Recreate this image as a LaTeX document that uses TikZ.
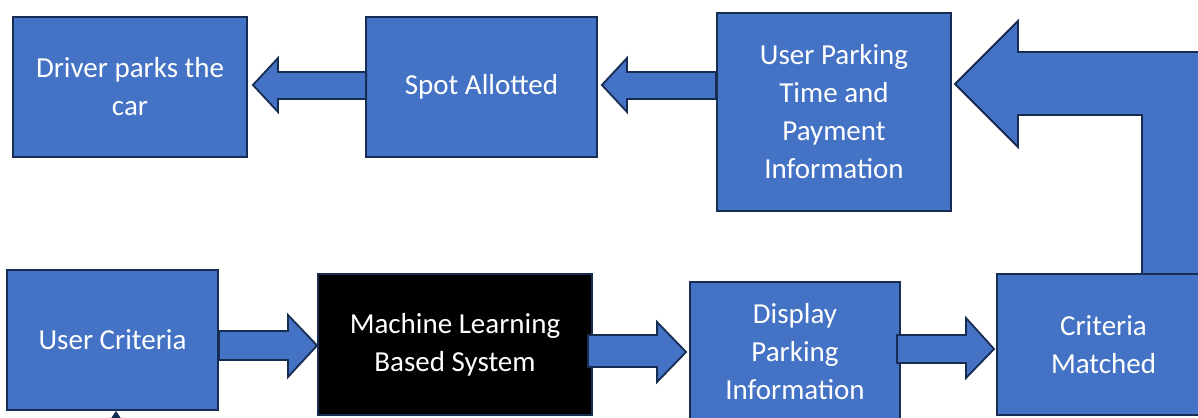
\documentclass[tikz,border=0pt]{standalone}
\usepackage{fontspec}
\setmainfont{Carlito}
\usetikzlibrary{calc,arrows.meta}
\definecolor{boxblue}{HTML}{4472C4}
\definecolor{edgeblue}{HTML}{172C51}
\tikzset{
  box/.style={draw=edgeblue, line width=1.8bp, fill=boxblue, text=white,
    align=center, inner sep=0pt, font=\fontsize{29bp}{38bp}\selectfont},
  darkbox/.style={box, fill=black},
  barrow/.style={draw=edgeblue, line width=1.8bp, fill=boxblue, line join=miter},
}
\begin{document}
\begin{tikzpicture}[x=1bp,y=-1bp]
\useasboundingbox (0,0) rectangle (1198,417);
\clip (0,0) rectangle (1198,417);
% bent arrow (Criteria Matched -> User Parking Time)
\draw[barrow] (1142,274) -- (1142,115) -- (1018,115) -- (1018,147) -- (955,84)
  -- (1018,21) -- (1018,52) -- (1205,52) -- (1205,274) -- cycle;
% boxes
\node[box, minimum width=234bp, minimum height=140bp] (driver) at (130,87) {Driver parks the\\car};
\node[box, minimum width=231bp, minimum height=140bp] (spot) at (481.5,87) {Spot Allotted};
\node[box, minimum width=234bp, minimum height=198bp] (upt) at (834,112) {User Parking\\Time and\\Payment\\Information};
\node[box, minimum width=211bp, minimum height=140bp] (uc) at (112.5,340) {User Criteria};
\node[darkbox, minimum width=274bp, minimum height=141bp] (ml) at (455,344.5) {Machine Learning\\Based System};
\node[box, minimum width=210bp, minimum height=140bp] (disp) at (795,352) {Display\\Parking\\Information};
\node[box, minimum width=213bp, minimum height=141bp] (cm) at (1103.5,344.5) {Criteria\\Matched};
% block arrows
\draw[barrow] ($(spot.west)+(1,-15)$) -- (278,72) -- (278,58) -- ($(driver.east)+(5,-2)$)
  -- (278,112) -- (278,99) -- ($(spot.west)+(1,12)$) -- cycle;
\draw[barrow] ($(upt.west |- spot.west)+(0,-15)$) -- (627,72) -- (627,58) -- ($(spot.east)+(4,-2)$)
  -- (627,112) -- (627,99) -- ($(upt.west |- spot.west)+(0,12)$) -- cycle;
\draw[barrow] ($(uc.east)+(0,-9)$) -- (288,331) -- (288,315) -- ($(ml.west |- uc.east)+(0,5.5)$)
  -- (288,377) -- (288,360) -- ($(uc.east)+(0,20)$) -- cycle;
\draw[barrow] ($(ml.east)+(-5,-9.5)$) -- (657,335) -- (657,322) -- ($(disp.west |- ml.east)+(-3,7.5)$)
  -- (657,382) -- (657,367) -- ($(ml.east)+(-5,22.5)$) -- cycle;
\draw[barrow] ($(disp.east)+(-4,-17)$) -- (966,335) -- (966,318) -- ($(cm.west |- disp.east)+(-2,-3)$)
  -- (966,378) -- (966,363) -- ($(disp.east)+(-4,11)$) -- cycle;
% small arrow into User Criteria from below
\coordinate (below) at (116,440);
\draw[edgeblue, line width=1.2bp, -{Triangle[width=9bp,length=7bp]}] (below) -- (below |- uc.south);
\end{tikzpicture}
\end{document}
